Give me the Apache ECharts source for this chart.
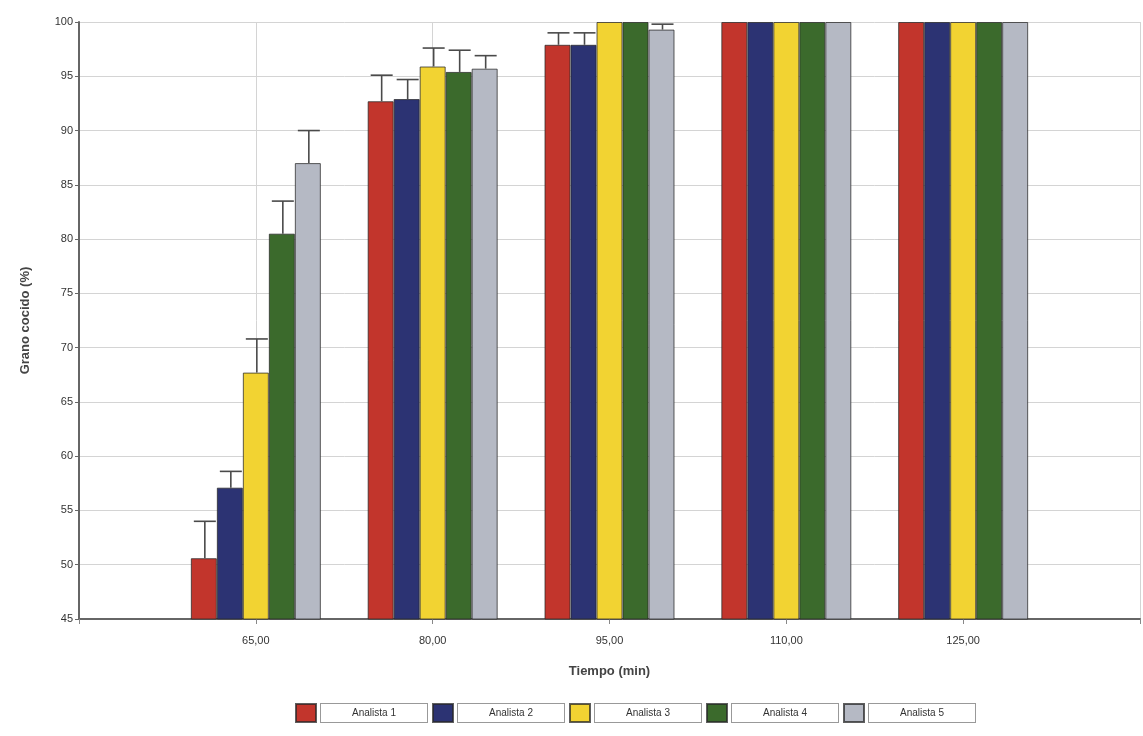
<!DOCTYPE html>
<html>
<head>
<meta charset="utf-8">
<script src="https://cdn.jsdelivr.net/npm/echarts@6/dist/echarts.min.js"></script>
<style>html,body{margin:0;padding:0;background:#fff}#c{width:1143px;height:736px}</style>
</head>
<body>
<div id="c"></div>
<script>
// Tick labels (time, min) — padded with empty edge categories
const tickLabels = ['65,00', '80,00', '95,00', '110,00', '125,00'];
const seriesNames = ['Analista 1', 'Analista 2', 'Analista 3', 'Analista 4', 'Analista 5'];
const colors = ['#C2352C', '#2C3373', '#F2D332', '#3B6A2C', '#B5B9C4'];

// Mean values (% grano cocido) per analyst at each time
const analista1 = [50.6, 92.7, 97.9, 100, 100];
const analista2 = [57.1, 92.9, 97.9, 100, 100];
const analista3 = [67.7, 95.9, 100, 100, 100];
const analista4 = [80.5, 95.4, 100, 100, 100];
const analista5 = [87.0, 95.7, 99.3, 100, 100];

// Upper error bar end values
const err1 = [54.0, 95.1, 99.0, null, null];
const err2 = [58.6, 94.7, 99.0, null, null];
const err3 = [70.8, 97.6, null, null, null];
const err4 = [83.5, 97.4, null, null, null];
const err5 = [90.0, 96.9, 99.8, null, null];

const values = [analista1, analista2, analista3, analista4, analista5];
const errs = [err1, err2, err3, err4, err5];

const cats = [''].concat(tickLabels, ['']);
const pad = a => [null].concat(a, [null]);
const BW = 26;

const chart = echarts.init(document.getElementById('c'));
const series = [];
values.forEach((v, i) => {
  series.push({
    name: seriesNames[i], type: 'bar', data: pad(v), barWidth: BW, barGap: '0%',
    itemStyle: { color: colors[i], borderColor: 'rgba(40,40,40,0.75)', borderWidth: 1 },
    z: 2
  });
});
values.forEach((v, i) => {
  const d = [];
  pad(v).forEach((val, k) => {
    const e = pad(errs[i])[k];
    if (val != null && e != null) d.push([k, val, e]);
  });
  series.push({
    type: 'custom', data: d, z: 5, silent: true,
    renderItem: function (params, api) {
      const base = api.coord([api.value(0), api.value(1)]);
      const top = api.coord([api.value(0), api.value(2)]);
      const x = base[0] + (i - 2) * BW + 1;
      const hw = 11;
      const st = { stroke: '#4a4a4a', lineWidth: 1.6 };
      return { type: 'group', children: [
        { type: 'line', shape: { x1: x, y1: base[1], x2: x, y2: top[1] }, style: st },
        { type: 'line', shape: { x1: x - hw, y1: top[1], x2: x + hw, y2: top[1] }, style: st }
      ]};
    }
  });
});

chart.setOption({
  animation: false,
  backgroundColor: '#fff',
  color: colors,
  grid: { left: 79, right: 1, top: 22, bottom: 117 },
  legend: {
    bottom: 8, left: 290, data: seriesNames, itemWidth: 20, itemHeight: 18, itemGap: 4,
    icon: 'rect',
    formatter: '{b|{name}}',
    textStyle: {
      rich: {
        b: {
          fontFamily: 'Liberation Sans', fontSize: 10, color: '#333', width: 106, align: 'center',
          backgroundColor: '#fff', borderColor: '#999', borderWidth: 1, padding: [4, 0], height: 10
        }
      }
    }
  },
  xAxis: {
    type: 'category', data: cats, boundaryGap: false,
    name: 'Tiempo (min)', nameLocation: 'middle', nameGap: 46,
    nameTextStyle: { fontFamily: 'Liberation Sans', fontSize: 13, fontWeight: 'bold', color: '#444' },
    axisLine: { lineStyle: { color: '#666', width: 2 } },
    axisTick: { show: true, length: 5, lineStyle: { color: '#888' } },
    axisLabel: { fontFamily: 'Liberation Sans', fontSize: 11, color: '#333', margin: 16 },
    splitLine: { show: true, lineStyle: { color: '#d4d4d4' } }
  },
  yAxis: {
    type: 'value', min: 45, max: 100, interval: 5,
    name: 'Grano cocido (%)', nameLocation: 'middle', nameGap: 47,
    nameTextStyle: { fontFamily: 'Liberation Sans', fontSize: 13, fontWeight: 'bold', color: '#444' },
    axisLine: { show: true, lineStyle: { color: '#666', width: 2 } },
    axisTick: { show: true, length: 4, lineStyle: { color: '#666' } },
    axisLabel: { fontFamily: 'Liberation Sans', fontSize: 11, color: '#333', margin: 6 },
    splitLine: { show: true, lineStyle: { color: '#d4d4d4' } }
  },
  series: series
});
</script>
</body>
</html>
